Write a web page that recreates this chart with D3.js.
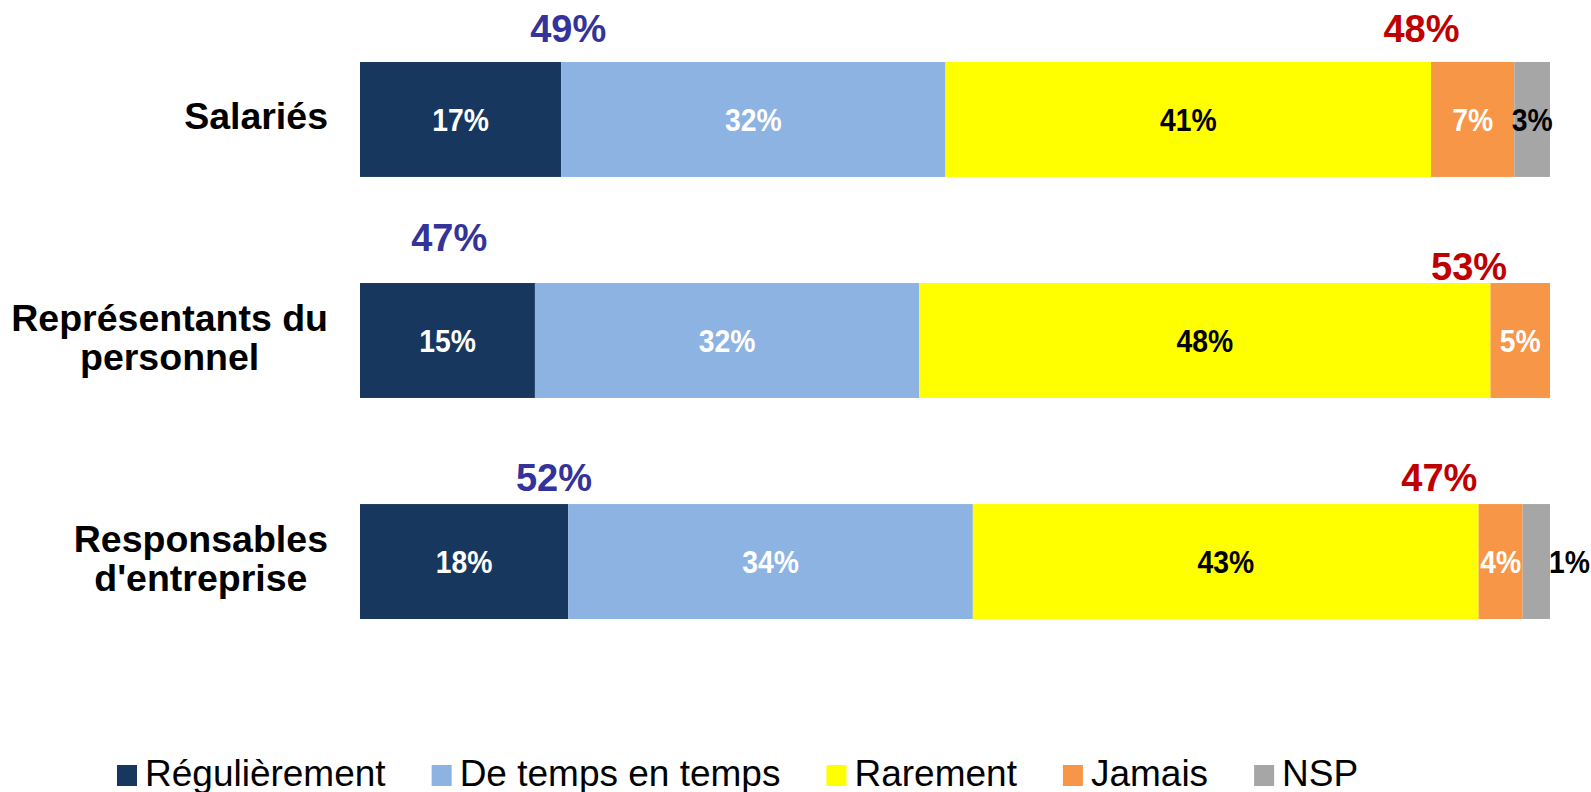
<!DOCTYPE html>
<html>
<head>
<meta charset="utf-8">
<script src="https://cdn.jsdelivr.net/npm/d3@7/dist/d3.min.js"></script>
<style>
    body { margin: 0; background: #fff; }
    text { font-family: "Liberation Sans", Arial, sans-serif; }
</style>
</head>
<body>
<div id="chart"></div>
<script>
// DATA
const categories = ["Salariés", "Représentants du\npersonnel", "Responsables\nd'entreprise"];
const series = ["Régulièrement", "De temps en temps", "Rarement", "Jamais", "NSP"];

// bar widths (in %)
const regulierement = [16.9, 14.7, 17.5];
const deTempsEnTemps = [32.3, 32.3, 34.0];
const rarement = [40.8, 48.0, 42.5];
const jamais = [7.0, 5.0, 3.7];
const nsp = [3.0, 0, 2.3];

// printed labels per row (null = no label)
const pctLabels = [
    [17, 32, 41, 7, 3],
    [15, 32, 48, 5, null],
    [18, 34, 43, 4, 1]
];
const totalOften = [49, 47, 52];   // Régulièrement + De temps en temps
const totalRarely = [48, 53, 47];  // Rarement + Jamais

// SETUP
const width = 1591, height = 792;
const margin = {left: 360, right: 41, top: 62};

const svg = d3.select("#chart").append("svg")
    .attr("width", width)
    .attr("height", height);

const colors = d3.scaleOrdinal()
    .domain(series)
    .range(["#17375E", "#8DB3E2", "#FFFF00", "#F79646", "#A6A6A6"]);
const textColors = ["#fff", "#fff", "#000", "#fff", "#000"];

const x = d3.scaleLinear().domain([0, 100]).range([margin.left, width - margin.right]);
const y = d3.scaleBand().domain(categories).range([margin.top, 619]).paddingInner(0.48).paddingOuter(0);

const columns = [regulierement, deTempsEnTemps, rarement, jamais, nsp];
const table = categories.map((c, i) => {
    const row = {cat: c};
    series.forEach((s, si) => row[s] = columns[si][i]);
    return row;
});
const stacked = d3.stack().keys(series)(table);

// BARS
const layers = svg.append("g").selectAll("g")
    .data(stacked)
    .join("g")
    .attr("fill", d => colors(d.key));

layers.selectAll("rect")
    .data(d => d)
    .join("rect")
    .attr("x", d => x(d[0]))
    .attr("y", d => y(d.data.cat))
    .attr("width", d => x(d[1]) - x(d[0]))
    .attr("height", y.bandwidth());

// SEGMENT LABELS
const inFont = 32, inScale = 0.885;
stacked.forEach((layer, si) => {
    layer.forEach((d, i) => {
        const lab = pctLabels[i][si];
        if (lab === null) return;
        const w = x(d[1]) - x(d[0]);
        let cx = (x(d[0]) + x(d[1])) / 2, anchor = "middle";
        if (w < 30) { cx = x(d[1]) - 1; anchor = "start"; }
        const cy = y(d.data.cat) + y.bandwidth() / 2 + inFont * 0.358;
        svg.append("text")
            .attr("transform", `translate(${cx},${cy}) scale(${inScale},1)`)
            .attr("text-anchor", anchor)
            .attr("font-size", inFont)
            .attr("font-weight", "bold")
            .attr("fill", textColors[si])
            .text(lab + "%");
    });
});

// SUMMARY LABELS ABOVE BARS
const blueAt = [17.5, 7.5, 16.3], blueLift = [20, 32, 13];
const redAt = [89.2, 93.2, 90.7], redLift = [20, 3, 13];
categories.forEach((c, i) => {
    svg.append("text")
        .attr("x", x(blueAt[i]))
        .attr("y", y(c) - blueLift[i])
        .attr("text-anchor", "middle")
        .attr("font-size", 38)
        .attr("font-weight", "bold")
        .attr("fill", "#333399")
        .text(totalOften[i] + "%");
    svg.append("text")
        .attr("x", x(redAt[i]))
        .attr("y", y(c) - redLift[i])
        .attr("text-anchor", "middle")
        .attr("font-size", 38)
        .attr("font-weight", "bold")
        .attr("fill", "#C00000")
        .text(totalRarely[i] + "%");
});

// CATEGORY LABELS (block right-aligned, lines centred inside it)
const catFont = 37.5, lineH = 39, labelRight = 328;
categories.forEach(c => {
    const lines = c.split("\n");
    const cy = y(c) + y.bandwidth() / 2;
    const t = svg.append("text")
        .attr("text-anchor", "middle")
        .attr("font-size", catFont)
        .attr("font-weight", "bold")
        .attr("fill", "#000");
    const spans = lines.map((l, li) => t.append("tspan")
        .attr("y", cy + 10 + (li - (lines.length - 1) / 2) * lineH)
        .text(l));
    const maxW = d3.max(spans, s => s.node().getComputedTextLength());
    spans.forEach(s => s.attr("x", labelRight - maxW / 2));
});

// LEGEND
const legend = svg.append("g");
let lx = 117;
const ly = 786;
series.forEach(s => {
    legend.append("rect")
        .attr("x", lx)
        .attr("y", ly - 21)
        .attr("width", 20)
        .attr("height", 21)
        .attr("fill", colors(s));
    const t = legend.append("text")
        .attr("x", lx + 28)
        .attr("y", ly)
        .attr("font-size", 37)
        .attr("fill", "#000")
        .text(s);
    lx += 28 + t.node().getComputedTextLength() + 46;
});
</script>
</body>
</html>
